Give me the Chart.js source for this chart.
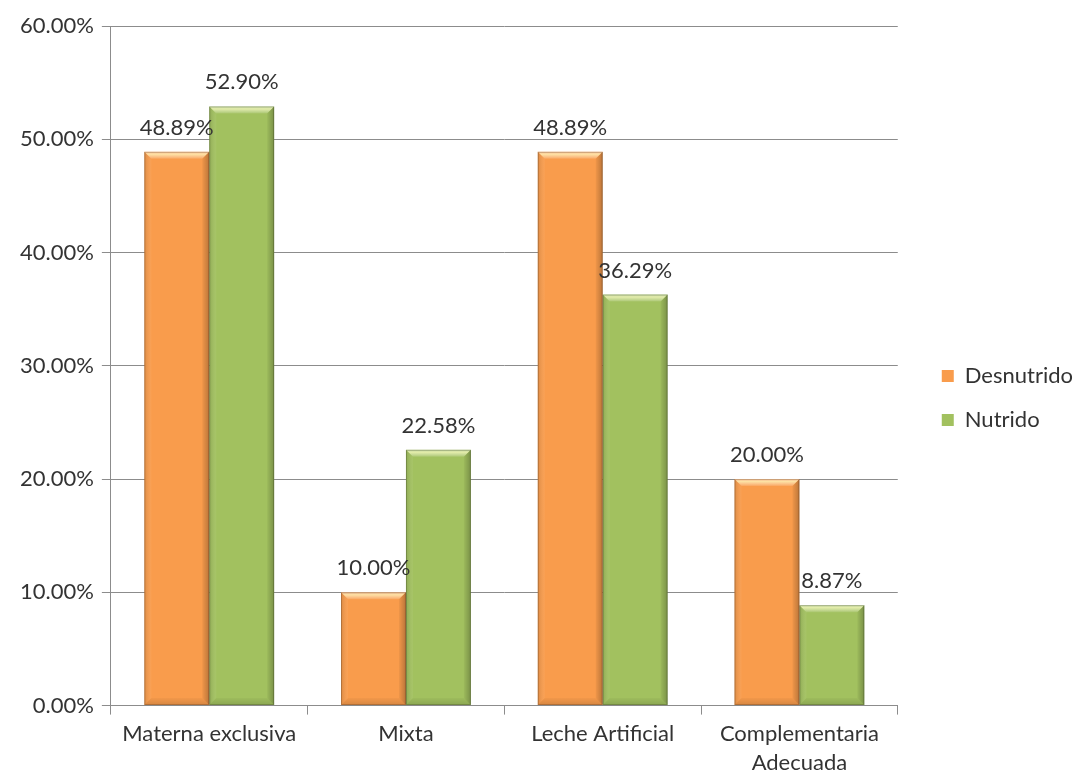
<!DOCTYPE html>
<html>
<head>
<meta charset="utf-8">
<style>
* { margin: 0; padding: 0; }
body { background: #fff; }
.chartBox { width: 1073px; height: 776px; }
</style>
</head>
<body>
<div class="chartBox">
  <canvas id="myChart"></canvas>
</div>
<script src="https://cdn.jsdelivr.net/npm/chart.js"></script>
<script>
// setup
const categories = ['Materna exclusiva', 'Mixta', 'Leche Artificial', ['Complementaria', 'Adecuada']];
const desnutrido = [48.89, 10.00, 48.89, 20.00];
const nutrido = [52.90, 22.58, 36.29, 8.87];
const yTicks = [0, 10, 20, 30, 40, 50, 60];

const FONT = 'Lato, "Noto Sans", sans-serif';
const TEXT = '#333333';
const GRID = '#8c8c8c';

// bevel + value labels on top of each bar
const bevelPlugin = {
  id: 'bevel',
  afterDatasetsDraw(chart) {
    const ctx = chart.ctx;
    chart.data.datasets.forEach((ds, i) => {
      const meta = chart.getDatasetMeta(i);
      meta.data.forEach((bar, j) => {
        const p = bar.getProps(['x', 'y', 'base', 'width'], true);
        const l = p.x - p.width / 2, r = p.x + p.width / 2;
        const t = p.y, b = p.base, e = 7;
        ctx.save();
        // top
        let g = ctx.createLinearGradient(0, t, 0, t + e);
        g.addColorStop(0, 'rgba(255,255,255,0.35)');
        g.addColorStop(0.35, 'rgba(255,255,200,0.7)');
        g.addColorStop(1, 'rgba(255,255,255,0.1)');
        ctx.fillStyle = g;
        ctx.beginPath();
        ctx.moveTo(l, t); ctx.lineTo(r, t); ctx.lineTo(r - e, t + e); ctx.lineTo(l + e, t + e);
        ctx.closePath(); ctx.fill();
        // left
        g = ctx.createLinearGradient(l, 0, l + e, 0);
        g.addColorStop(0, 'rgba(0,0,0,0.12)');
        g.addColorStop(1, 'rgba(255,255,255,0.05)');
        ctx.fillStyle = g;
        ctx.beginPath();
        ctx.moveTo(l, t); ctx.lineTo(l + e, t + e); ctx.lineTo(l + e, b - e); ctx.lineTo(l, b);
        ctx.closePath(); ctx.fill();
        // right
        g = ctx.createLinearGradient(r - e, 0, r, 0);
        g.addColorStop(0, 'rgba(0,0,0,0.04)');
        g.addColorStop(1, 'rgba(0,0,0,0.25)');
        ctx.fillStyle = g;
        ctx.beginPath();
        ctx.moveTo(r, t); ctx.lineTo(r - e, t + e); ctx.lineTo(r - e, b - e); ctx.lineTo(r, b);
        ctx.closePath(); ctx.fill();
        // bottom
        g = ctx.createLinearGradient(0, b - e, 0, b);
        g.addColorStop(0, 'rgba(0,0,0,0.03)');
        g.addColorStop(1, 'rgba(0,0,0,0.14)');
        ctx.fillStyle = g;
        ctx.beginPath();
        ctx.moveTo(l, b); ctx.lineTo(l + e, b - e); ctx.lineTo(r - e, b - e); ctx.lineTo(r, b);
        ctx.closePath(); ctx.fill();
        // outline
        ctx.strokeStyle = 'rgba(0,0,0,0.2)';
        ctx.lineWidth = 1;
        ctx.strokeRect(l + 0.5, t + 0.5, p.width - 1, b - t - 1);
        // label
        ctx.fillStyle = TEXT;
        ctx.font = '22px ' + FONT;
        ctx.textAlign = 'center';
        ctx.textBaseline = 'alphabetic';
        ctx.fillText(ds.data[j].toFixed(2) + '%', p.x, t - 17);
        ctx.restore();
      });
    });
  }
};

const data = {
  labels: categories,
  datasets: [{
    label: 'Desnutrido',
    data: desnutrido,
    backgroundColor: '#F99C4C',
    borderWidth: 0
  }, {
    label: 'Nutrido',
    data: nutrido,
    backgroundColor: '#A2C15F',
    borderWidth: 0
  }]
};

// config
const config = {
  type: 'bar',
  data,
  plugins: [bevelPlugin],
  options: {
    responsive: false,
    animation: false,
    categoryPercentage: 0.66,
    barPercentage: 1,
    layout: { padding: { left: 12, top: 26, right: -10, bottom: -6 } },
    plugins: {
      tooltip: { enabled: false },
      legend: {
        position: 'right',
        align: 'start',
        // blank title only pushes the items down to the middle
        title: { display: true, text: ' ', font: { size: 10 }, padding: { top: 305, bottom: 0 } },
        labels: {
          color: TEXT,
          font: { family: FONT, size: 22 },
          boxWidth: 12,
          boxHeight: 12,
          padding: 22
        }
      }
    },
    scales: {
      x: {
        grid: { offset: true, drawOnChartArea: false, color: GRID, tickLength: 9 },
        border: { color: GRID },
        ticks: { color: TEXT, font: { family: FONT, size: 22, lineHeight: 1.35 }, padding: 4, maxRotation: 0 }
      },
      y: {
        min: yTicks[0],
        max: yTicks[yTicks.length - 1],
        afterBuildTicks: (axis) => { axis.ticks = yTicks.map(v => ({ value: v })); },
        grid: { color: GRID, tickLength: 9 },
        border: { color: GRID },
        ticks: {
          color: TEXT,
          font: { family: FONT, size: 22 },
          padding: 8,
          callback: (v) => Number(v).toFixed(2) + '%'
        }
      },
      // empty spacer between plot and legend
      gap: {
        position: 'right',
        grid: { display: false },
        border: { display: false },
        ticks: { display: false },
        afterFit: (axis) => { axis.width = 22; }
      }
    }
  }
};

const canvas = document.getElementById('myChart');
canvas.width = 1073;
canvas.height = 776;
const myChart = new Chart(canvas, config);
</script>
</body>
</html>
